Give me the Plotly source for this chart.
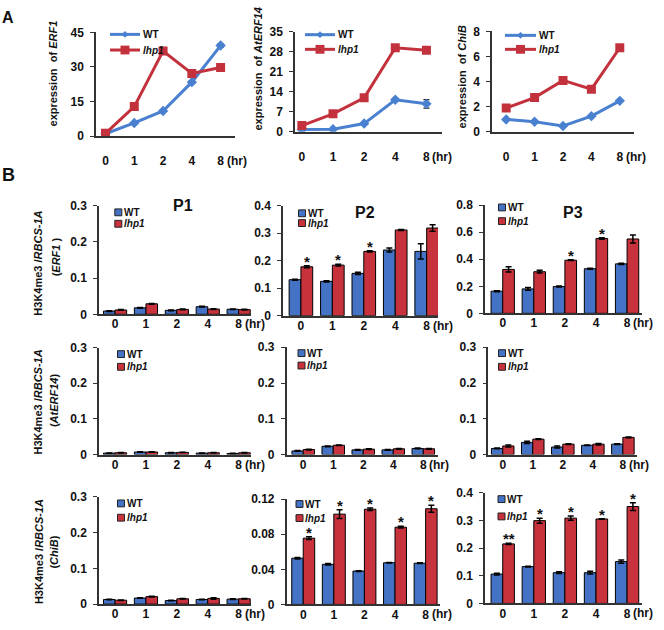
import plotly.graph_objects as go

# ---------------- data ----------------
hours = ["0", "1", "2", "4", "8"]
hour_unit = "(hr)"
genotypes = ["WT", "lhp1"]

# Panel A : expression (qRT-PCR)
erf1_wt = [1.0, 5.7, 10.9, 23.4, 39.3]
erf1_lhp1 = [1.2, 12.8, 36.9, 27.2, 29.8]
erf1_wt_err = [0.3, 0.4, 0.5, 0.6, 0.8]
erf1_lhp1_err = [0.3, 0.6, 0.8, 0.6, 0.6]

aterf14_wt = [0.8, 0.9, 2.9, 11.2, 9.8]
aterf14_lhp1 = [2.2, 6.3, 11.9, 29.4, 28.5]
aterf14_wt_err = [0.2, 0.2, 0.4, 0.5, 1.5]
aterf14_lhp1_err = [0.3, 0.4, 0.5, 0.6, 0.6]

chib_wt = [0.99, 0.81, 0.47, 1.25, 2.47]
chib_lhp1 = [1.9, 2.73, 4.1, 3.4, 6.7]
chib_wt_err = [0.05, 0.05, 0.04, 0.06, 0.08]
chib_lhp1_err = [0.06, 0.07, 0.08, 0.08, 0.1]

# Panel B : H3K4me3 / RBCS-1A ChIP
erf1_p1_wt = [0.009, 0.018, 0.011, 0.021, 0.014]
erf1_p1_lhp1 = [0.012, 0.029, 0.0135, 0.0145, 0.013]
erf1_p1_wt_err = [0.001, 0.001, 0.001, 0.001, 0.001]
erf1_p1_lhp1_err = [0.001, 0.001, 0.001, 0.001, 0.001]
erf1_p1_sig = ["", "", "", "", ""]

erf1_p2_wt = [0.131, 0.125, 0.154, 0.239, 0.234]
erf1_p2_lhp1 = [0.178, 0.184, 0.234, 0.312, 0.319]
erf1_p2_wt_err = [0.002, 0.002, 0.004, 0.007, 0.028]
erf1_p2_lhp1_err = [0.004, 0.003, 0.002, 0.002, 0.012]
erf1_p2_sig = ["*", "*", "*", "", ""]

erf1_p3_wt = [0.164, 0.181, 0.198, 0.33, 0.366]
erf1_p3_lhp1 = [0.325, 0.308, 0.393, 0.554, 0.55]
erf1_p3_wt_err = [0.004, 0.01, 0.004, 0.003, 0.005]
erf1_p3_lhp1_err = [0.02, 0.01, 0.003, 0.006, 0.03]
erf1_p3_sig = ["", "", "*", "*", ""]

aterf14_p1_wt = [0.004, 0.007, 0.005, 0.004, 0.003]
aterf14_p1_lhp1 = [0.005, 0.007, 0.006, 0.005, 0.005]
aterf14_p1_wt_err = [0.0005, 0.0005, 0.0005, 0.0005, 0.0005]
aterf14_p1_lhp1_err = [0.0005, 0.0005, 0.0005, 0.0005, 0.0008]
aterf14_p1_sig = ["", "", "", "", ""]

aterf14_p2_wt = [0.01, 0.023, 0.013, 0.013, 0.017]
aterf14_p2_lhp1 = [0.014, 0.026, 0.015, 0.016, 0.016]
aterf14_p2_wt_err = [0.001, 0.001, 0.001, 0.001, 0.001]
aterf14_p2_lhp1_err = [0.001, 0.001, 0.001, 0.001, 0.001]
aterf14_p2_sig = ["", "", "", "", ""]

aterf14_p3_wt = [0.017, 0.034, 0.021, 0.026, 0.029]
aterf14_p3_lhp1 = [0.024, 0.043, 0.029, 0.029, 0.048]
aterf14_p3_wt_err = [0.001, 0.003, 0.003, 0.001, 0.001]
aterf14_p3_lhp1_err = [0.003, 0.001, 0.001, 0.002, 0.001]
aterf14_p3_sig = ["", "", "", "", ""]

chib_p1_wt = [0.013, 0.017, 0.01, 0.013, 0.014]
chib_p1_lhp1 = [0.011, 0.021, 0.015, 0.016, 0.015]
chib_p1_wt_err = [0.0008, 0.0008, 0.0008, 0.0008, 0.0008]
chib_p1_lhp1_err = [0.0008, 0.0008, 0.0008, 0.002, 0.0008]
chib_p1_sig = ["", "", "", "", ""]

chib_p2_wt = [0.0527, 0.0457, 0.038, 0.0475, 0.047]
chib_p2_lhp1 = [0.0755, 0.1029, 0.1085, 0.088, 0.109]
chib_p2_wt_err = [0.0008, 0.0008, 0.0004, 0.0004, 0.0004]
chib_p2_lhp1_err = [0.0015, 0.005, 0.0015, 0.001, 0.004]
chib_p2_sig = ["*", "*", "*", "*", "*"]

chib_p3_wt = [0.106, 0.133, 0.111, 0.111, 0.151]
chib_p3_lhp1 = [0.215, 0.299, 0.308, 0.305, 0.35]
chib_p3_wt_err = [0.003, 0.001, 0.003, 0.005, 0.006]
chib_p3_lhp1_err = [0.002, 0.009, 0.008, 0.001, 0.014]
chib_p3_sig = ["**", "*", "*", "*", "*"]

# ---------------- style / layout ----------------
W, H = 664, 630
FONT = "Liberation Sans, Arial, Helvetica, sans-serif"
INK = "#111111"
AXIS = "#333333"
WT_LINE = "#4a80d0"
LHP_LINE = "#c3323c"
WT_BAR = "#4472c4"
LHP_BAR = "#c8323c"
BARGAP = 0.25


def fx(px):
    return px / W


def fy(py):
    return 1 - py / H


line_panels = [
    dict(gene="ERF1", wt=erf1_wt, lhp=erf1_lhp1, wte=erf1_wt_err, lhe=erf1_lhp1_err,
         xd=(96, 235), yd=(26, 132), ymax=45, dt=15, xr=(-0.33, 4.5),
         tx=53, ty=68, lx=(110, 140), ly=(28, 44)),
    dict(gene="AtERF14", wt=aterf14_wt, lhp=aterf14_lhp1, wte=aterf14_wt_err, lhe=aterf14_lhp1_err,
         xd=(295, 442), yd=(25.3, 127.7), ymax=35, dt=7, xr=(-0.22, 4.5),
         tx=258, ty=64, lx=(305, 335), ly=(28.3, 43.3)),
    dict(gene="ChiB", wt=chib_wt, lhp=chib_lhp1, wte=chib_wt_err, lhe=chib_lhp1_err,
         xd=(492, 634), yd=(25, 127.7), ymax=8, dt=2, xr=(-0.5, 4.5),
         tx=462, ty=72, lx=(505, 536), ly=(29, 43.3)),
]

bar_panels = [
    # row 1 (ERF1)
    dict(wt=erf1_p1_wt, lhp=erf1_p1_lhp1, wte=erf1_p1_wt_err, lhe=erf1_p1_lhp1_err, sig=erf1_p1_sig,
         xd=(99, 251), yd=(203.3, 314.3), ymax=0.3, dt=0.1, xr=(-0.52, 4.4), title="P1", tpos=(183, 203),
         leg=(118.3, 210, 221.7)),
    dict(wt=erf1_p2_wt, lhp=erf1_p2_lhp1, wte=erf1_p2_wt_err, lhe=erf1_p2_lhp1_err, sig=erf1_p2_sig,
         xd=(283, 438), yd=(203.3, 315.7), ymax=0.4, dt=0.1, xr=(-0.57, 4.36), title="P2", tpos=(365, 210),
         leg=(302, 211, 221)),
    dict(wt=erf1_p3_wt, lhp=erf1_p3_lhp1, wte=erf1_p3_wt_err, lhe=erf1_p3_lhp1_err, sig=erf1_p3_sig,
         xd=(485, 642), yd=(202.7, 313.3), ymax=0.8, dt=0.2, xr=(-0.57, 4.48), title="P3", tpos=(573, 210),
         leg=(502, 205, 219)),
    # row 2 (AtERF14)
    dict(wt=aterf14_p1_wt, lhp=aterf14_p1_lhp1, wte=aterf14_p1_wt_err, lhe=aterf14_p1_lhp1_err, sig=aterf14_p1_sig,
         xd=(99, 251), yd=(348.3, 457.7), ymax=0.3, dt=0.1, xr=(-0.52, 4.4), title="", tpos=None,
         leg=(121, 355, 368)),
    dict(wt=aterf14_p2_wt, lhp=aterf14_p2_lhp1, wte=aterf14_p2_wt_err, lhe=aterf14_p2_lhp1_err, sig=aterf14_p2_sig,
         xd=(286.7, 438), yd=(348, 457.7), ymax=0.3, dt=0.1, xr=(-0.55, 4.49), title="", tpos=None,
         leg=(301.5, 354, 366.7)),
    dict(wt=aterf14_p3_wt, lhp=aterf14_p3_lhp1, wte=aterf14_p3_wt_err, lhe=aterf14_p3_lhp1_err, sig=aterf14_p3_sig,
         xd=(488.3, 637), yd=(348, 457.7), ymax=0.3, dt=0.1, xr=(-0.48, 4.47), title="", tpos=None,
         leg=(502, 354, 368)),
    # row 3 (ChiB)
    dict(wt=chib_p1_wt, lhp=chib_p1_lhp1, wte=chib_p1_wt_err, lhe=chib_p1_lhp1_err, sig=chib_p1_sig,
         xd=(99, 251), yd=(501, 610.7), ymax=0.3, dt=0.1, xr=(-0.52, 4.4), title="", tpos=None,
         leg=(121, 507.7, 522.3)),
    dict(wt=chib_p2_wt, lhp=chib_p2_lhp1, wte=chib_p2_wt_err, lhe=chib_p2_lhp1_err, sig=chib_p2_sig,
         xd=(286.7, 440), yd=(503.3, 611), ymax=0.12, dt=0.04, xr=(-0.54, 4.47), title="", tpos=None,
         leg=(299.5, 508.3, 522.7)),
    dict(wt=chib_p3_wt, lhp=chib_p3_lhp1, wte=chib_p3_wt_err, lhe=chib_p3_lhp1_err, sig=chib_p3_sig,
         xd=(485, 642), yd=(496.7, 610), ymax=0.4, dt=0.1, xr=(-0.57, 4.48), title="", tpos=None,
         leg=(501.5, 503.3, 521)),
]

row_titles = [
    dict(gene="ERF1 ", l1=(38.5, 262), l2=(56, 255)),
    dict(gene="AtERF14", l1=(38.5, 404), l2=(54, 402)),
    dict(gene="ChiB", l1=(38.5, 557), l2=(54, 558)),
]

fig = go.Figure()
layout = dict(
    width=W, height=H, margin=dict(l=0, r=0, t=0, b=0),
    paper_bgcolor="white", plot_bgcolor="white",
    showlegend=False, barmode="group", bargap=BARGAP, bargroupgap=0,
    font=dict(family=FONT, color=INK),
)
annotations = []
shapes = []

tick_font = dict(family=FONT, size=12, color=INK, weight="bold")
tickvals = list(range(len(hours)))
ticktext = hours[:-1] + [hours[-1]]


def axis_pair(n, xd, yd, xr, yr, dt, standoff):
    sx = "" if n == 1 else str(n)
    xa = dict(domain=[fx(xd[0]), fx(xd[1])], range=list(xr), anchor="y" + sx,
              showline=True, linecolor=AXIS, linewidth=1.5, ticks="", showgrid=False,
              zeroline=False, tickvals=tickvals, ticktext=ticktext, tickfont=tick_font,
              ticklabelstandoff=standoff, fixedrange=True)
    ya = dict(domain=[fy(yd[1]), fy(yd[0])], range=list(yr), anchor="x" + sx,
              showline=True, linecolor=AXIS, linewidth=1.5, ticks="outside", ticklen=4,
              tickwidth=1.2, tickcolor=AXIS, showgrid=False, zeroline=False, dtick=dt,
              tick0=0, tickfont=tick_font, ticklabelstandoff=4, fixedrange=True)
    layout["xaxis" + sx] = xa
    layout["yaxis" + sx] = ya
    return "x" + sx, "y" + sx


def hr_note(xref, yref, yshift):
    annotations.append(dict(xref=xref, yref=yref, x=tickvals[-1], y=0, text=hour_unit,
                            showarrow=False, xanchor="left", yanchor="top", xshift=4,
                            yshift=yshift, font=dict(family=FONT, size=12, color=INK, weight="bold")))


n = 0
# ---- Panel A: line charts ----
for p in line_panels:
    n += 1
    xr_, yr_ = axis_pair(n, p["xd"], p["yd"], p["xr"], (0, p["ymax"]), p["dt"], 13)
    fig.add_trace(go.Scatter(x=tickvals, y=p["wt"], xaxis=xr_, yaxis=yr_, mode="lines+markers",
                             line=dict(color=WT_LINE, width=3),
                             marker=dict(symbol="diamond", size=8, color=WT_LINE),
                             error_y=dict(type="data", array=p["wte"], color="#222", thickness=1.2, width=3)))
    fig.add_trace(go.Scatter(x=tickvals, y=p["lhp"], xaxis=xr_, yaxis=yr_, mode="lines+markers",
                             line=dict(color=LHP_LINE, width=3),
                             marker=dict(symbol="square", size=9, color=LHP_LINE),
                             error_y=dict(type="data", array=p["lhe"], color="#222", thickness=1.2, width=3)))
    hr_note(xr_, yr_, -16)
    # y title
    annotations.append(dict(xref="paper", yref="paper", x=fx(p["tx"]), y=fy(p["ty"]),
                            text="expression  of <i>" + p["gene"] + "</i>", textangle=-90,
                            showarrow=False, xanchor="center", yanchor="middle",
                            font=dict(family=FONT, size=11, color=INK, weight="bold")))
    # legend
    x0, x1 = p["lx"]
    xm = (x0 + x1) / 2
    for gname, col, yy, sym in [(genotypes[0], WT_LINE, p["ly"][0], "diamond"),
                                 (genotypes[1], LHP_LINE, p["ly"][1], "square")]:
        shapes.append(dict(type="line", xref="paper", yref="paper", x0=fx(x0), x1=fx(x1),
                           y0=fy(yy), y1=fy(yy), line=dict(color=col, width=3)))
        if sym == "square":
            shapes.append(dict(type="rect", xref="paper", yref="paper", x0=fx(xm - 4.5), x1=fx(xm + 4.5),
                               y0=fy(yy + 4.5), y1=fy(yy - 4.5), fillcolor=col, line=dict(width=0)))
        else:
            path = "M {} {} L {} {} L {} {} L {} {} Z".format(
                fx(xm - 3.5), fy(yy), fx(xm), fy(yy - 3.5), fx(xm + 3.5), fy(yy), fx(xm), fy(yy + 3.5))
            shapes.append(dict(type="path", xref="paper", yref="paper", path=path,
                               fillcolor=col, line=dict(width=0)))
        label = gname if gname == "WT" else "<i>" + gname + "</i>"
        annotations.append(dict(xref="paper", yref="paper", x=fx(x1 + 1), y=fy(yy), text=label,
                                showarrow=False, xanchor="left", yanchor="middle",
                                font=dict(family=FONT, size=10, color=INK, weight="bold")))

# ---- Panel B: bar charts ----
lhp_offset = (1 - BARGAP) / 4
for p in bar_panels:
    n += 1
    xr_, yr_ = axis_pair(n, p["xd"], p["yd"], p["xr"], (0, p["ymax"]), p["dt"], -2)
    fig.add_trace(go.Bar(x=tickvals, y=p["wt"], xaxis=xr_, yaxis=yr_, name="WT",
                         marker=dict(color=WT_BAR, line=dict(color="black", width=1)),
                         error_y=dict(type="data", array=p["wte"], color="black", thickness=1.5, width=3)))
    fig.add_trace(go.Bar(x=tickvals, y=p["lhp"], xaxis=xr_, yaxis=yr_, name="lhp1",
                         marker=dict(color=LHP_BAR, line=dict(color="black", width=1)),
                         error_y=dict(type="data", array=p["lhe"], color="black", thickness=1.5, width=3)))
    hr_note(xr_, yr_, -1)
    for i, s in enumerate(p["sig"]):
        if s:
            annotations.append(dict(xref=xr_, yref=yr_, x=tickvals[i] + lhp_offset,
                                    y=p["lhp"][i] + p["lhe"][i], text=s, showarrow=False,
                                    xanchor="center", yanchor="bottom", yshift=-6,
                                    font=dict(family=FONT, size=15, color=INK, weight="bold")))
    if p["title"]:
        annotations.append(dict(xref="paper", yref="paper", x=fx(p["tpos"][0]), y=fy(p["tpos"][1]),
                                text=p["title"], showarrow=False, xanchor="center", yanchor="middle",
                                font=dict(family=FONT, size=16, color=INK, weight="bold")))
    cx, y1, y2 = p["leg"]
    for gname, col, yy in [(genotypes[0], WT_BAR, y1), (genotypes[1], LHP_BAR, y2)]:
        shapes.append(dict(type="rect", xref="paper", yref="paper", x0=fx(cx - 3.5), x1=fx(cx + 3.5),
                           y0=fy(yy + 3.5), y1=fy(yy - 3.5), fillcolor=col,
                           line=dict(color="#222", width=1)))
        label = gname if gname == "WT" else "<i>" + gname + "</i>"
        annotations.append(dict(xref="paper", yref="paper", x=fx(cx + 3.5), y=fy(yy), text=label,
                                showarrow=False, xanchor="left", yanchor="middle",
                                font=dict(family=FONT, size=10, color=INK, weight="bold")))

for r in row_titles:
    annotations.append(dict(xref="paper", yref="paper", x=fx(r["l1"][0]), y=fy(r["l1"][1]),
                            text="H3K4me3 /<i>RBCS-1A</i>", textangle=-90, showarrow=False,
                            xanchor="center", yanchor="middle",
                            font=dict(family=FONT, size=11, color=INK, weight="bold")))
    annotations.append(dict(xref="paper", yref="paper", x=fx(r["l2"][0]), y=fy(r["l2"][1]),
                            text="(<i>" + r["gene"] + "</i>)", textangle=-90, showarrow=False,
                            xanchor="center", yanchor="middle",
                            font=dict(family=FONT, size=11, color=INK, weight="bold")))

# panel letters
annotations.append(dict(xref="paper", yref="paper", x=0, y=1, text="A", showarrow=False,
                        xanchor="left", yanchor="top",
                        font=dict(family=FONT, size=16, color=INK, weight="bold")))
annotations.append(dict(xref="paper", yref="paper", x=0, y=fy(172), text="B", showarrow=False,
                        xanchor="left", yanchor="middle",
                        font=dict(family=FONT, size=18, color=INK, weight="bold")))

layout["annotations"] = annotations
layout["shapes"] = shapes
fig.update_layout(**layout)
fig.write_html("out.html")
